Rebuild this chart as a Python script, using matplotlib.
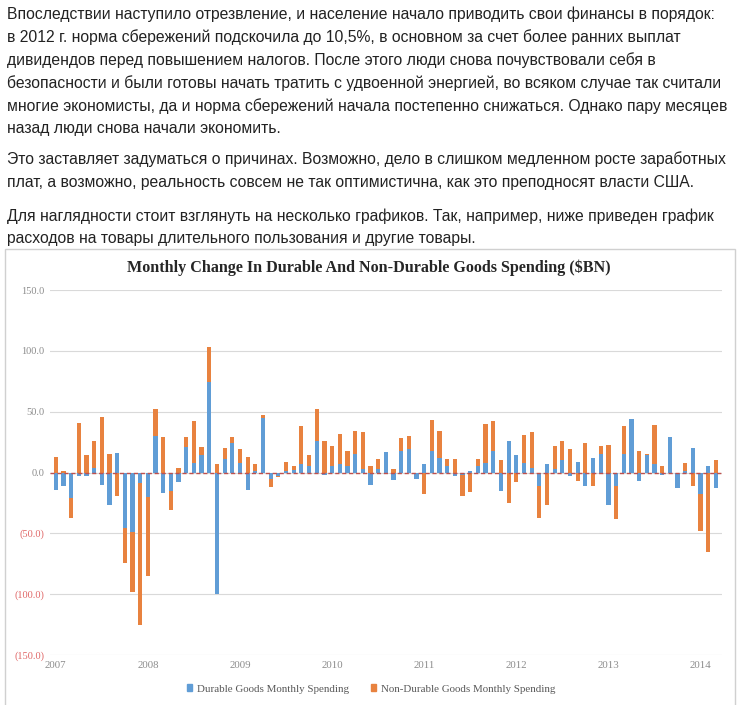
import numpy as np
import matplotlib
matplotlib.use("Agg")
import matplotlib.pyplot as plt
from matplotlib.patches import Patch, Rectangle

# article text above the chart
paragraphs = [
    ["Впоследствии наступило отрезвление, и население начало приводить свои финансы в порядок:",
     "в 2012 г. норма сбережений подскочила до 10,5%, в основном за счет более ранних выплат",
     "дивидендов перед повышением налогов. После этого люди снова почувствовали себя в",
     "безопасности и были готовы начать тратить с удвоенной энергией, во всяком случае так считали",
     "многие экономисты, да и норма сбережений начала постепенно снижаться. Однако пару месяцев",
     "назад люди снова начали экономить."],
    ["Это заставляет задуматься о причинах. Возможно, дело в слишком медленном росте заработных",
     "плат, а возможно, реальность совсем не так оптимистична, как это преподносят власти США."],
    ["Для наглядности стоит взглянуть на несколько графиков. Так, например, ниже приведен график",
     "расходов на товары длительного пользования и другие товары."],
]

title = "Monthly Change In Durable And Non-Durable Goods Spending ($BN)"
years = ["2007", "2008", "2009", "2010", "2011", "2012", "2013", "2014"]
ytick_vals = [150, 100, 50, 0, -50, -100, -150]
ytick_labels = ["150.0", "100.0", "50.0", "0.0", "(50.0)", "(100.0)", "(150.0)"]

# Jan 2007 .. Mar 2014, $BN monthly change
durable = [-14, -11, -21, -3, -3, 4, -10, -27, 16, -46, -49, -9,
           -20, 30, -17, -15, -8, 21, 8, 14, 74, -100, 11, 24,
           8, -14, 1, 45, -5, -3, 1, 2, 7, 5, 26, -2,
           5, 7, 5, 15, 3, -10, 3, 17, -6, 18, 19, -5,
           7, 18, 12, 5, -3, -2, 1, 5, 8, 18, -15, 26,
           14, 8, 4, -11, 7, 3, 10, -3, 9, -11, 12, 15,
           -27, -11, 15, 44, -7, 14, 7, -2, 29, -13, 1, 20,
           -18, 5, -13]
nondurable = [13, 1, -16, 41, 14, 22, 46, 15, -19, -28, -49, -116,
              -65, 22, 29, -16, 4, 8, 34, 7, 29, 7, 9, 5,
              11, 13, 6, 2, -7, -1, 8, 3, 31, 9, 26, 26,
              17, 25, 13, 19, 30, 5, 8, 0, 3, 10, 11, 0,
              -18, 25, 22, 6, 11, -17, -16, 6, 32, 24, 10, -25,
              -8, 23, 29, -26, -27, 19, 16, 19, -7, 24, -11, 7,
              23, -27, 23, 0, 18, 1, 32, 5, 0, 0, 7, -11,
              -30, -65, 10]

W, H = 741, 705
fig = plt.figure(figsize=(W / 100, H / 100), dpi=100)

# paragraphs
line_y = [[14, 37, 60, 83, 106, 128], [159, 182], [216, 238]]
for lines, ys in zip(paragraphs, line_y):
    for txt, y in zip(lines, ys):
        fig.text(7 / W, 1 - y / H, txt, ha="left", va="center",
                 fontsize=11.35, family="Liberation Sans", color="#222222")

# chart frame
fig.patches.append(Rectangle((5 / W, -0.01), 730 / W, 1 - 249 / H + 0.01,
                             transform=fig.transFigure, fill=False,
                             edgecolor="#d0d0d0", lw=1))

fig.text(369 / W, 1 - 268 / H, title, ha="center", va="center",
         fontsize=11.6, fontweight="bold", family="Liberation Serif", color="#262626")

ax = fig.add_axes([50 / W, 1 - 655 / H, 672 / W, 365 / H])

x = np.arange(len(durable))
d = np.array(durable, dtype=float)
n = np.array(nondurable, dtype=float)
bottom_n = np.where(n >= 0, np.maximum(d, 0), np.minimum(d, 0))

blue = "#609dd6"
orange = "#e8823f"
ax.bar(x, d, width=0.55, color=blue, zorder=2)
ax.bar(x, n, bottom=bottom_n, width=0.55, color=orange, zorder=2)
ax.axhline(0, color="#c0504d", ls=(0, (3, 2)), lw=1, zorder=3)

ax.set_xlim(-0.75, 86.8)
ax.set_ylim(-150, 150)
ax.set_yticks(ytick_vals)
ax.set_yticklabels(ytick_labels)
for lab, v in zip(ax.get_yticklabels(), ytick_vals):
    lab.set_color("#e06666" if v < 0 else "#8c8c8c")
    lab.set_fontsize(7.5)
    lab.set_family("Liberation Serif")
ax.yaxis.grid(True, color="#d9d9d9", lw=0.8, zorder=0)

ax.set_xticks(np.arange(len(years)) * 12)
ax.set_xticklabels(years, fontsize=7.8, family="Liberation Serif", color="#8c8c8c")
ax.tick_params(length=0, pad=4)
for s in ax.spines.values():
    s.set_visible(False)

handles = [Patch(color=blue, label="Durable Goods Monthly Spending"),
           Patch(color=orange, label="Non-Durable Goods Monthly Spending")]
fig.legend(handles=handles, loc="center", bbox_to_anchor=(371 / W, 1 - 689 / H),
           ncol=2, frameon=False, handlelength=0.5, handleheight=0.5,
           handletextpad=0.4, columnspacing=2.0,
           prop={"family": "Liberation Serif", "size": 7.9}, labelcolor="#595959")

fig.savefig("out.png", dpi=100)
